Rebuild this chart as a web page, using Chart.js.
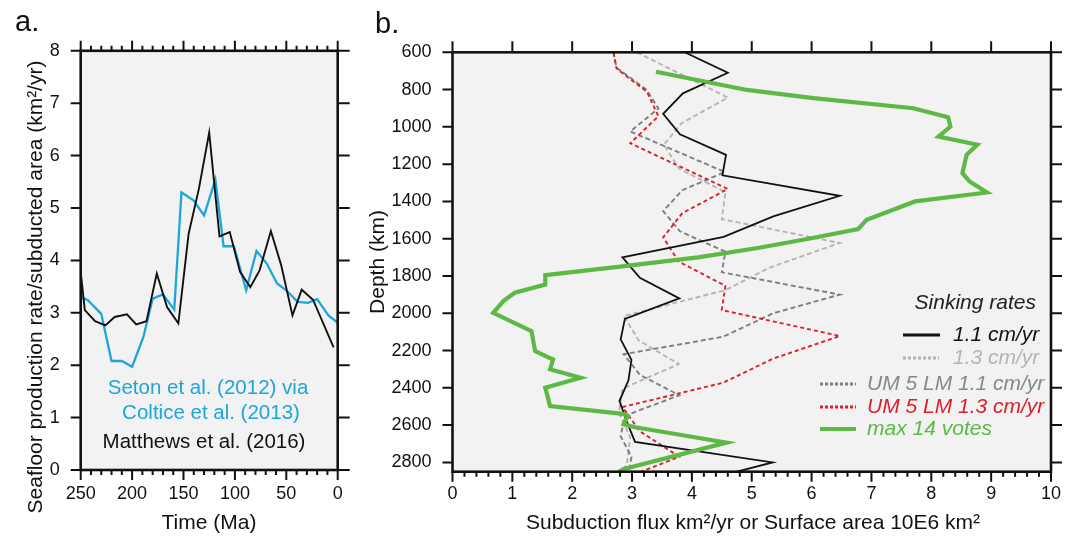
<!DOCTYPE html>
<html><head><meta charset="utf-8">
<script src="https://cdn.jsdelivr.net/npm/chart.js@4.4.0/dist/chart.umd.min.js"></script>
<style>
html,body{margin:0;padding:0;background:#fff;}
#wrap{position:relative;width:1074px;height:538px;overflow:hidden;background:#fff;}
canvas{position:absolute;top:0;}
#ca{left:0;}
#cb{left:360px;}
</style></head><body>
<div id="wrap">
<canvas id="ca" width="360" height="538"></canvas>
<canvas id="cb" width="714" height="538"></canvas>
</div>
<script>
// ---------- Panel a data ----------
const timeMatthews = [250, 246, 236, 226, 217, 205, 196, 186, 176, 166, 155, 145, 135, 125, 115, 105, 95, 85, 76, 65, 55, 44, 35, 24, 4];
const matthews     = [3.78, 3.05, 2.84, 2.76, 2.92, 2.97, 2.78, 2.84, 3.75, 3.11, 2.80, 4.51, 5.37, 6.44, 4.46, 4.54, 3.78, 3.49, 3.81, 4.56, 3.91, 2.95, 3.44, 3.25, 2.34];
const timeSeton = [250, 243, 230, 220, 210, 200, 189, 180, 170, 159, 152, 140, 130, 119, 111, 101, 89, 79, 69, 59, 50, 39, 29, 20, 9, 0];
const seton     = [3.30, 3.24, 2.98, 2.08, 2.08, 1.97, 2.54, 3.27, 3.35, 3.06, 5.30, 5.14, 4.86, 5.54, 4.27, 4.27, 3.43, 4.18, 3.94, 3.56, 3.43, 3.21, 3.19, 3.26, 2.95, 2.81];
const timeTicks = [250, 200, 150, 100, 50, 0];
const rateTicks = [0, 1, 2, 3, 4, 5, 6, 7, 8];

// ---------- Panel b data ----------
const depth11 = [600, 710, 820, 930, 1040, 1150, 1260, 1370, 1480, 1590, 1700, 1810, 1920, 2030, 2140, 2250, 2360, 2470, 2580, 2690, 2800, 2850];
const flux11  = [3.88, 4.60, 3.85, 3.52, 3.80, 4.57, 4.51, 6.47, 5.36, 4.53, 2.84, 3.13, 3.79, 2.88, 2.81, 2.99, 2.94, 2.79, 2.91, 3.05, 5.35, 4.75];
const depth13 = [600, 843, 980, 1096, 1225, 1350, 1495, 1623, 1755, 1875, 2015, 2145, 2272, 2405, 2535, 2665, 2795, 2850];
const flux13  = [3.08, 4.60, 3.83, 3.53, 3.79, 4.56, 4.50, 6.47, 5.30, 4.57, 2.86, 3.11, 3.78, 2.84, 2.78, 2.97, 2.92, 2.85];
const depthUM11 = [600, 683, 800, 902, 1025, 1242, 1340, 1452, 1560, 1670, 1780, 1900, 2000, 2126, 2220, 2330, 2440, 2550, 2660, 2770, 2850];
const fluxUM11  = [2.69, 2.74, 3.24, 3.44, 2.97, 4.55, 3.84, 3.52, 3.80, 4.56, 4.50, 6.47, 5.36, 4.52, 2.86, 3.13, 3.79, 2.88, 2.81, 2.99, 2.95];
const depthUM13 = [600, 686, 813, 943, 1088, 1333, 1463, 1593, 1723, 1853, 1983, 2122, 2243, 2373, 2503, 2633, 2770, 2850];
const fluxUM13  = [2.69, 2.74, 3.25, 3.44, 2.97, 4.60, 3.84, 3.52, 3.78, 4.56, 4.50, 6.47, 5.36, 4.52, 2.84, 3.13, 3.79, 3.15];
const depthVotes = [704, 802, 846, 900, 948, 998, 1052, 1096, 1150, 1248, 1293, 1352, 1400, 1498, 1548, 1600, 1650, 1700, 1750, 1795, 1846, 1890, 1935, 1998, 2096, 2203, 2248, 2301, 2346, 2399, 2498, 2540, 2552, 2595, 2610, 2649, 2694, 2837, 2850];
const fluxVotes  = [3.40, 4.92, 6.03, 7.70, 8.28, 8.32, 8.12, 8.77, 8.59, 8.52, 8.64, 8.93, 7.73, 6.92, 6.78, 5.95, 5.10, 4.10, 2.80, 1.55, 1.55, 1.04, 0.85, 0.68, 1.32, 1.38, 1.68, 1.63, 2.14, 1.55, 1.63, 2.85, 2.93, 2.86, 3.03, 3.75, 4.58, 2.85, 2.78];
const fluxTicks  = [0, 1, 2, 3, 4, 5, 6, 7, 8, 9, 10];
const depthTicks = [600, 800, 1000, 1200, 1400, 1600, 1800, 2000, 2200, 2400, 2600, 2800];

const CYAN = '#1ea5da', GREEN = '#5db845', RED = '#dc1f29', MGRAY = '#7e7e7e', LGRAY = '#b4b4b4';
const FONT = "'Liberation Sans', Arial, Helvetica, sans-serif";

function pts(xs, ys) { return xs.map((v, i) => ({x: v, y: ys[i]})); }
function range(a, b, s) { const r = []; for (let v = a; v <= b + 1e-9; v += s) r.push(+v.toFixed(4)); return r; }

function decoPlugin(spec) {
  return {
    id: 'deco',
    beforeDraw(chart) {
      const {ctx, chartArea: a} = chart;
      ctx.save();
      ctx.fillStyle = '#f2f2f2';
      ctx.fillRect(a.left, a.top, a.right - a.left, a.bottom - a.top);
      ctx.restore();
    },
    afterDraw(chart) {
      const {ctx, chartArea: a, scales} = chart;
      const xs = scales.x, ys = scales.y;
      ctx.save();
      ctx.strokeStyle = '#111';
      ctx.lineWidth = 2;
      ctx.beginPath();
      spec.xMajor.forEach(v => {
        const p = xs.getPixelForValue(v);
        ctx.moveTo(p, a.bottom); ctx.lineTo(p, a.bottom + spec.bMaj);
        ctx.moveTo(p, a.top); ctx.lineTo(p, a.top - spec.tMaj);
      });
      spec.xMinor.forEach(v => {
        const p = xs.getPixelForValue(v);
        ctx.moveTo(p, a.bottom); ctx.lineTo(p, a.bottom + spec.bMin);
        if (spec.tMin) { ctx.moveTo(p, a.top); ctx.lineTo(p, a.top - spec.tMin); }
      });
      spec.yMajor.forEach(v => {
        const p = ys.getPixelForValue(v);
        ctx.moveTo(a.left, p); ctx.lineTo(a.left - spec.lMaj, p);
        ctx.moveTo(a.right, p); ctx.lineTo(a.right + spec.rMaj, p);
      });
      ctx.stroke();
      ctx.lineWidth = 2.6;
      ctx.strokeRect(a.left, a.top, a.right - a.left, a.bottom - a.top);
      spec.texts.forEach(t => {
        ctx.save();
        ctx.font = (t.style || '') + ' ' + t.size + 'px ' + FONT;
        ctx.fillStyle = t.color || '#111';
        ctx.textAlign = t.align || 'center';
        ctx.textBaseline = t.base || 'middle';
        ctx.translate(t.x, t.y);
        if (t.rot) ctx.rotate(t.rot);
        ctx.fillText(t.text, 0, 0);
        ctx.restore();
      });
      (spec.samples || []).forEach(s => {
        ctx.save();
        ctx.strokeStyle = s.color; ctx.lineWidth = s.width;
        ctx.setLineDash(s.dash || []);
        ctx.beginPath(); ctx.moveTo(s.x1, s.y); ctx.lineTo(s.x2, s.y); ctx.stroke();
        ctx.restore();
      });
      ctx.restore();
    }
  };
}

function axisBase(ticksArr, pad, fit) {
  return {
    type: 'linear',
    afterBuildTicks: s => { s.ticks = ticksArr.map(v => ({value: v})); },
    afterFit: fit,
    grid: {display: false, drawTicks: false},
    border: {display: false},
    ticks: {padding: pad, color: '#111', font: {family: FONT, size: 18}, maxRotation: 0, autoSkip: false,
            callback: v => String(v)}
  };
}

// ---------- Panel a ----------
const xa = axisBase(timeTicks, 13, s => { s.height = 68; });
Object.assign(xa, {min: 0, max: 250, reverse: true});
const ya = axisBase(rateTicks, 21, s => { s.width = 80.7; });
Object.assign(ya, {min: 0, max: 8});

new Chart(document.getElementById('ca'), {
  type: 'scatter',
  data: {datasets: [
    {label: 'Matthews et al. (2016)', data: pts(timeMatthews, matthews), showLine: true, borderColor: '#111', borderWidth: 1.9, pointRadius: 0, tension: 0},
    {label: 'Seton et al. (2012) via Coltice et al. (2013)', data: pts(timeSeton, seton), showLine: true, borderColor: CYAN, borderWidth: 2.3, pointRadius: 0, tension: 0}
  ]},
  options: {
    responsive: false, animation: false, devicePixelRatio: 1,
    layout: {padding: {left: 0, right: 22.3, top: 50.8, bottom: 0}},
    plugins: {legend: {display: false}, tooltip: {enabled: false}},
    scales: {x: xa, y: ya}
  },
  plugins: [decoPlugin({
    xMajor: timeTicks, xMinor: range(0, 250, 10), bMaj: 10, bMin: 5, tMaj: 10, tMin: 5,
    yMajor: rateTicks, lMaj: 10, rMaj: 12,
    texts: [
      {text: 'a.', x: 15, y: 31, size: 29, align: 'left', base: 'alphabetic'},
      {text: 'Seafloor production rate/subducted area (km²/yr)', x: 36, y: 287, size: 21, rot: -Math.PI / 2},
      {text: 'Time (Ma)', x: 209, y: 523, size: 21},
      {text: 'Seton et al. (2012) via', x: 208, y: 388, size: 20.5, color: CYAN},
      {text: 'Coltice et al. (2013)', x: 211, y: 413, size: 20.5, color: CYAN},
      {text: 'Matthews et al. (2016)', x: 204, y: 442, size: 20.5, color: '#111'}
    ]
  })]
});

// ---------- Panel b ----------
const xb = axisBase(fluxTicks, 12, s => { s.height = 66.3; });
Object.assign(xb, {min: 0, max: 10});
const yb = axisBase(depthTicks, 21, s => { s.width = 92.5; });
Object.assign(yb, {min: 600, max: 2850, reverse: true});
const OX = 360;

new Chart(document.getElementById('cb'), {
  type: 'scatter',
  data: {datasets: [
    {label: 'max 14 votes', data: pts(fluxVotes, depthVotes), showLine: true, borderColor: GREEN, borderWidth: 4.2, pointRadius: 0, tension: 0},
    {label: '1.1 cm/yr', data: pts(flux11, depth11), showLine: true, borderColor: '#111', borderWidth: 1.8, pointRadius: 0, tension: 0},
    {label: 'UM 5 LM 1.3 cm/yr', data: pts(fluxUM13, depthUM13), showLine: true, borderColor: RED, borderWidth: 1.9, borderDash: [4, 3], pointRadius: 0, tension: 0},
    {label: 'UM 5 LM 1.1 cm/yr', data: pts(fluxUM11, depthUM11), showLine: true, borderColor: MGRAY, borderWidth: 1.9, borderDash: [5, 3], pointRadius: 0, tension: 0},
    {label: '1.3 cm/yr', data: pts(flux13, depth13), showLine: true, borderColor: LGRAY, borderWidth: 1.9, borderDash: [5, 3], pointRadius: 0, tension: 0}
  ]},
  options: {
    responsive: false, animation: false, devicePixelRatio: 1,
    layout: {padding: {left: 0, right: 23, top: 52.3, bottom: 0}},
    plugins: {legend: {display: false}, tooltip: {enabled: false}},
    scales: {x: xb, y: yb}
  },
  plugins: [decoPlugin({
    xMajor: fluxTicks, xMinor: range(0, 10, 0.2), bMaj: 10, bMin: 5, tMaj: 11, tMin: 0,
    yMajor: depthTicks, lMaj: 10, rMaj: 11,
    texts: [
      {text: 'b.', x: 375 - OX, y: 33, size: 29, align: 'left', base: 'alphabetic'},
      {text: 'Depth (km)', x: 378 - OX, y: 262, size: 21, rot: -Math.PI / 2},
      {text: 'Subduction flux km²/yr or Surface area 10E6 km²', x: 753 - OX, y: 523, size: 21},
      {text: 'Sinking rates', x: 1036 - OX, y: 303, size: 21, style: 'italic', align: 'right', color: '#222'},
      {text: '1.1 cm/yr', x: 953 - OX, y: 335, size: 21, style: 'italic', align: 'left', color: '#111'},
      {text: '1.3 cm/yr', x: 953 - OX, y: 358, size: 21, style: 'italic', align: 'left', color: LGRAY},
      {text: 'UM 5 LM 1.1 cm/yr', x: 867 - OX, y: 384, size: 21, style: 'italic', align: 'left', color: '#888'},
      {text: 'UM 5 LM 1.3 cm/yr', x: 867 - OX, y: 407, size: 21, style: 'italic', align: 'left', color: RED},
      {text: 'max 14 votes', x: 867 - OX, y: 429, size: 21, style: 'italic', align: 'left', color: GREEN}
    ],
    samples: [
      {x1: 903 - OX, x2: 940 - OX, y: 335, color: '#111', width: 3},
      {x1: 903 - OX, x2: 939 - OX, y: 358, color: LGRAY, width: 3, dash: [3, 2]},
      {x1: 820 - OX, x2: 856 - OX, y: 384, color: MGRAY, width: 3, dash: [3, 2]},
      {x1: 820 - OX, x2: 856 - OX, y: 407, color: RED, width: 3, dash: [3, 2]},
      {x1: 820 - OX, x2: 856 - OX, y: 429, color: GREEN, width: 4}
    ]
  })]
});
</script>
</body></html>
